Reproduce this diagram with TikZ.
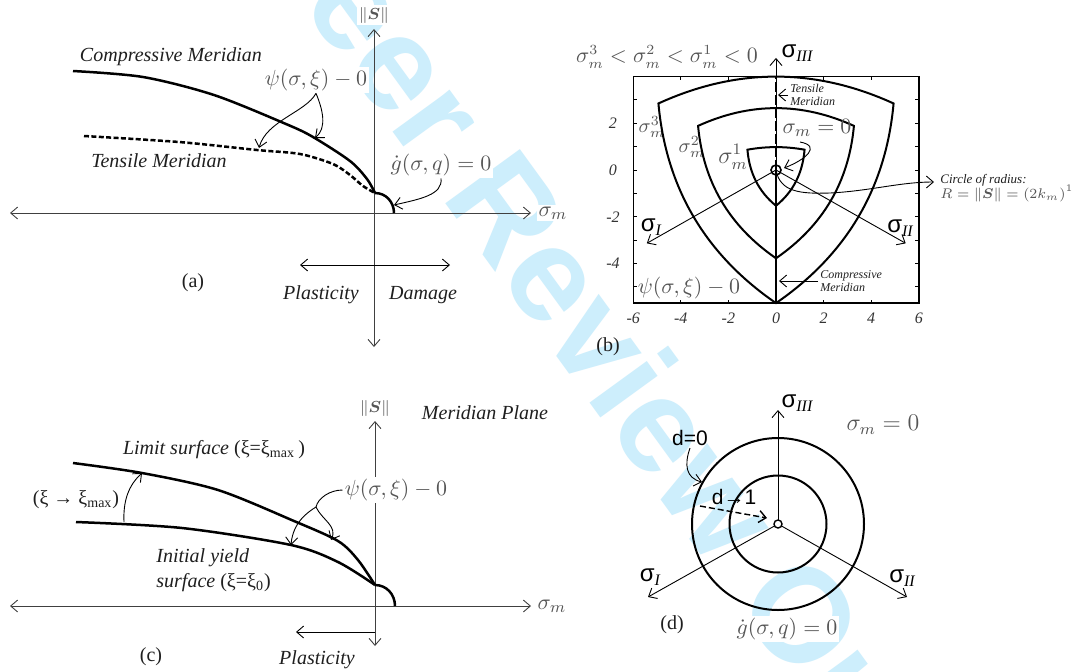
\documentclass[tikz,border=0pt]{standalone}
\usepackage{amsmath,amssymb}
\usepackage[no-math]{fontspec}
\setmainfont{Liberation Serif}
\setsansfont{Liberation Sans}
\usetikzlibrary{arrows.meta}
\definecolor{wm}{RGB}{205,238,252}
\definecolor{lbl}{RGB}{85,85,85}
\newcommand{\fsz}[1]{\fontsize{#1}{#1}\selectfont}
\newcommand{\sgl}[1]{{\fsz{12}\sffamily σ}\raisebox{-0.45ex}{\fsz{8}\itshape #1}}
\begin{document}
\begin{tikzpicture}[x=0.5pt,y=-0.5pt,
  arhead/.style={-{Straight Barb[length=3.5pt,width=6pt]}},
  ar/.style={arhead, line width=0.45pt},
  dar/.style={{Straight Barb[length=3.5pt,width=6pt]}-{Straight Barb[length=3.5pt,width=6pt]}, line width=0.45pt},
  axl/.style={dar, black!75},
  meri/.style={line width=1.25pt},
  bcurve/.style={line width=1pt, line join=miter},
  lab/.style={font=\fontsize{10}{12.5}\selectfont\itshape, text=black!88, inner sep=1pt},
  capl/.style={font=\fsz{10}, text=black!88, inner sep=1pt},
  mlab/.style={font=\fsz{11}, text=lbl, fill=white, inner sep=1pt},
  glab/.style={text=lbl, inner sep=1pt}]
\useasboundingbox (0,0) rectangle (1072,671);
\fill[white] (0,0) rectangle (1072,671);
% watermark
\begin{scope}
\clip (0,0) rectangle (1072,671);
\node[rotate=-54, anchor=base, text=wm, font=\fsz{67}\sffamily\bfseries, inner sep=0] (wmk) at (504,284) {For Peer Review Only};
\end{scope}

% ================= panel (a)
\coordinate (aL) at (10,213); \coordinate (aR) at (531,213);
\coordinate (aT) at (374,29); \coordinate (aB) at (374,347);
\draw[axl] (aL) -- (aR);
\draw[axl] (aB) -- (aT);
\node[mlab, font=\fsz{8}] (aS) at (374,15) {$\|\boldsymbol{S}\|$};
\node[mlab] (asig) at (553,213) {$\sigma_m$};
\draw[meri] plot[smooth] coordinates {(73,71) (143,77) (214,95) (286,124) (313,137) (350,161) (367,179) (375,193)};
\draw[meri, dash pattern=on 2.5pt off 1.2pt] plot[smooth] coordinates {(84,136) (179,142) (257,150) (300,154) (333,164) (350,175) (363,186) (375,193)};
\draw[meri] (375,193) .. controls (386,193) and (394,202) .. (394,213);
\node[lab] (acm) at (171,57) {Compressive Meridian};
\node[lab] (atm) at (159,161) {Tensile Meridian};
\node[mlab] (apsi) at (316,80) {$\psi(\sigma,\xi)-0$};
\node[mlab] (ag) at (441,165) {$\dot g(\sigma,q)=0$};
\coordinate (at1) at (259,148); \coordinate (at2) at (315,138);
\draw[ar] (apsi.south) .. controls (306,112) and (266,121) .. (at1);
\draw[ar] (apsi.south) .. controls (323,110) and (327,128) .. (at2);
\coordinate (agt) at (394,205);
\draw[ar] (ag.south) .. controls (443,195) and (420,199) .. (agt);
\coordinate (ap1) at (300,265); \coordinate (ap2) at (450,265);
\draw[dar] (ap1) -- (ap2);
\node[capl] (alab) at (193,283) {(a)};
\node[lab] (apl) at (321,295) {Plasticity};
\node[lab] (adm) at (423,295) {Damage};

% ================= panel (c)
\coordinate (cL) at (10,606); \coordinate (cR) at (531,606);
\coordinate (cT) at (375,421); \coordinate (cB) at (375,646);
\draw[axl] (cL) -- (cR);
\draw[axl] (cB) -- (cT);
\node[mlab, font=\fsz{8}] (cS) at (375,408) {$\|\boldsymbol{S}\|$};
\node[mlab] (csig) at (552,606) {$\sigma_m$};
\node[lab] (cmp) at (485,413) {Meridian Plane};
\draw[meri] plot[smooth] coordinates {(73,463) (142,473) (218,490) (294,521) (338,541) (358,560) (375,585)};
\draw[meri] plot[smooth] coordinates {(76,522) (182,528) (291,545) (338,562) (375,585)};
\draw[meri] (375,585) .. controls (386.6,585) and (395,594.4) .. (395,606);
\node[capl] (cls) at (214,450) {\textit{Limit surface} (ξ=ξ\textsubscript{max}\,)};
\node[capl] (cxi) at (76,500) {(ξ → ξ\textsubscript{max})};
\node[mlab] (cpsi) at (396,490) {$\psi(\sigma,\xi)-0$};
\node[lab, align=left, anchor=west] (ciy) at (154,570) {Initial yield\\surface {\upshape (ξ=ξ\textsubscript{0})}};
\node[capl] (clab) at (151,657) {(c)};
\node[lab] (cpl) at (317,660) {Plasticity};
\coordinate (cpa) at (375,632); \coordinate (cpb) at (296,632);
\draw[ar] (cpa) -- (cpb);
\coordinate (cx1) at (124,522); \coordinate (cx2) at (142,473);
\draw[ar] (cx1) .. controls (123,500) and (129,485) .. (cx2);
\coordinate (cj) at (316,507);
\coordinate (ct1) at (291,545); \coordinate (ct2) at (331,540);
\draw[line width=0.45pt] (cpsi.west) .. controls (330,490) and (318,498) .. (cj);
\draw[ar] (cj) .. controls (308,512) and (293,522) .. (ct1);
\draw[ar] (cj) .. controls (322,520) and (338,526) .. (ct2);

% ================= panel (b)
\node[mlab, font=\fsz{10.5}] (bineq) at (667,57) {$\sigma_m^3<\sigma_m^2<\sigma_m^1<0$};
\node[inner sep=1pt] (bIIIl) at (797,53) {\sgl{III}};
\node[glab, font=\fsz{10}] (bm3) at (652,127) {$\sigma_m^3$};
\node[glab, font=\fsz{10}] (bm2) at (692,147) {$\sigma_m^2$};
\node[glab, font=\fsz{12}] (bm1) at (733,157) {$\sigma_m^1$};
\begin{scope}[shift={(776,170)}, x=11.9pt, y=11.675pt]
  \draw[line width=0.7pt] (-6,-5.7) rectangle (6,4);
  \foreach \i in {-6,-4,...,6} {
    \draw[line width=0.5pt] (\i,-5.7) -- ++(0,0.15);
    \draw[line width=0.5pt] (\i,4) -- ++(0,-0.15);
    \node[font=\fsz{8}\itshape, text=black!80] at (\i,-6.35) {\i};
  }
  \foreach \j in {-5,...,3} {
    \draw[line width=0.5pt] (-6,\j) -- ++(0.15,0);
    \draw[line width=0.5pt] (6,\j) -- ++(-0.15,0);
  }
  \foreach \j in {-4,-2,0,2} {
    \node[font=\fsz{8}\itshape, text=black!80] at (-6.85,\j) {\j};
  }
  % outer
  \draw[bcurve] (-4.94,2.85) .. controls (-1.647,4.383) and (1.647,4.383) .. (4.94,2.85)
     .. controls (4.62,-0.767) and (2.973,-3.617) .. (0,-5.7)
     .. controls (-2.973,-3.617) and (-4.62,-0.767) .. cycle;
  % middle
  \draw[bcurve] (-3.274,1.89) .. controls (-1.091,2.903) and (1.091,2.903) .. (3.274,1.89)
     .. controls (3.06,-0.507) and (1.969,-2.397) .. (0,-3.78)
     .. controls (-1.969,-2.397) and (-3.06,-0.507) .. cycle;
  % inner
  \draw[bcurve] (-1.2,0.87) .. controls (-0.4,1.017) and (0.4,1.017) .. (1.2,0.87)
     .. controls (1.12,-0.137) and (0.72,-0.937) .. (0,-1.53)
     .. controls (-0.72,-0.937) and (-1.12,-0.137) .. cycle;
  \coordinate (bO) at (0,0);
  \coordinate (bBot) at (0,-5.7);
  \coordinate (bTop) at (0,4);
  \coordinate (bT) at (0,4.8);
  \coordinate (bIt) at (-5.43,-3.14);
  \coordinate (bIIt) at (5.45,-3.14);
  \draw[line width=1.3pt] (bBot) -- (bO);
  \draw[line width=1.3pt, dash pattern=on 5pt off 1.5pt] (bO) -- (bTop);
  \draw[ar] (bO) -- (bT);
  \draw[ar] (bO) -- (bIt);
  \draw[ar] (bO) -- (bIIt);
  \draw[line width=0.8pt] (bO) circle[radius=2.5pt];
\end{scope}
\node[lab, font=\fontsize{6}{6.5}\selectfont\itshape, align=left, anchor=west] (btm) at (788,95) {Tensile\\Meridian};
\coordinate (btt) at (778,95);
\draw[ar] (btm.west) -- (btt);
\node[lab, font=\fontsize{6}{6.3}\selectfont\itshape, align=left, anchor=west] (bcm) at (818,281) {Compressive\\Meridian};
\coordinate (bct) at (779,281);
\draw[ar] (bcm.west) -- (bct);
\node[glab, font=\fsz{11}] (bsm) at (817,128) {$\sigma_m=0$};
\coordinate (bss) at (800,142);
\coordinate (bst) at (784,168);
\draw[ar] (bss) .. controls (822,146) and (805,160) .. (bst);
\node[lab, font=\fsz{6.5}\itshape, anchor=west] (bcr) at (938,180) {Circle of radius:};
\node[glab, font=\fsz{7.5}, anchor=west] (bR) at (938,193) {$R=\|\boldsymbol{S}\|=(2k_m)^{1/\beta}$};
\coordinate (bct2) at (934,182);
\draw[ar] (bO) .. controls (780,192) and (800,194) .. (830,193) .. controls (870,191) and (900,182) .. (bct2);
\node[inner sep=1pt] (bIl) at (651,227) {\sgl{I}};
\node[inner sep=1pt] (bIIl) at (900,228) {\sgl{II}};
\node[glab, font=\fsz{11}] (bpsi) at (689,288) {$\psi(\sigma,\xi)-0$};
\node[capl] (blab) at (608,347) {(b)};

% ================= panel (d)
\coordinate (dO) at (778,524);
\coordinate (dT) at (778,410);
\coordinate (dIe) at (648,597);
\coordinate (dIIe) at (907,597);
\draw[line width=1pt] (dO) circle[radius=43pt];
\draw[line width=1pt] (dO) circle[radius=24.25pt];
\draw[ar] (dO) -- (dT);
\draw[ar] (dO) -- (dIe);
\draw[ar] (dO) -- (dIIe);
\draw[line width=0.7pt, fill=white] (dO) circle[radius=2pt];
\node[inner sep=1pt] (dIIIl) at (797,403) {\sgl{III}};
\node[inner sep=1pt] (dIl) at (650,577) {\sgl{I}};
\node[inner sep=1pt] (dIIl) at (902,578) {\sgl{II}};
\node[glab, font=\fsz{12}] (dsm) at (883,425) {$\sigma_m=0$};
\node[font=\fsz{10.5}\sffamily, inner sep=1pt] (dd0) at (690,438) {d=0};
\node[font=\fsz{10.5}\sffamily, inner sep=1pt] (dd1) at (734,497) {d→1};
\coordinate (dd0t) at (702,482);
\draw[ar] (dd0.south) .. controls (684,465) and (686,478) .. (dd0t);
\coordinate (dda) at (700,506); \coordinate (ddb) at (767,518);
\draw[ar, line width=0.7pt, dash pattern=on 3pt off 1.5pt] (dda) -- (ddb);
\node[capl] (dlab) at (672,625) {(d)};
\node[mlab] (dg) at (787,629) {$\dot g(\sigma,q)=0$};
\end{tikzpicture}
\end{document}
